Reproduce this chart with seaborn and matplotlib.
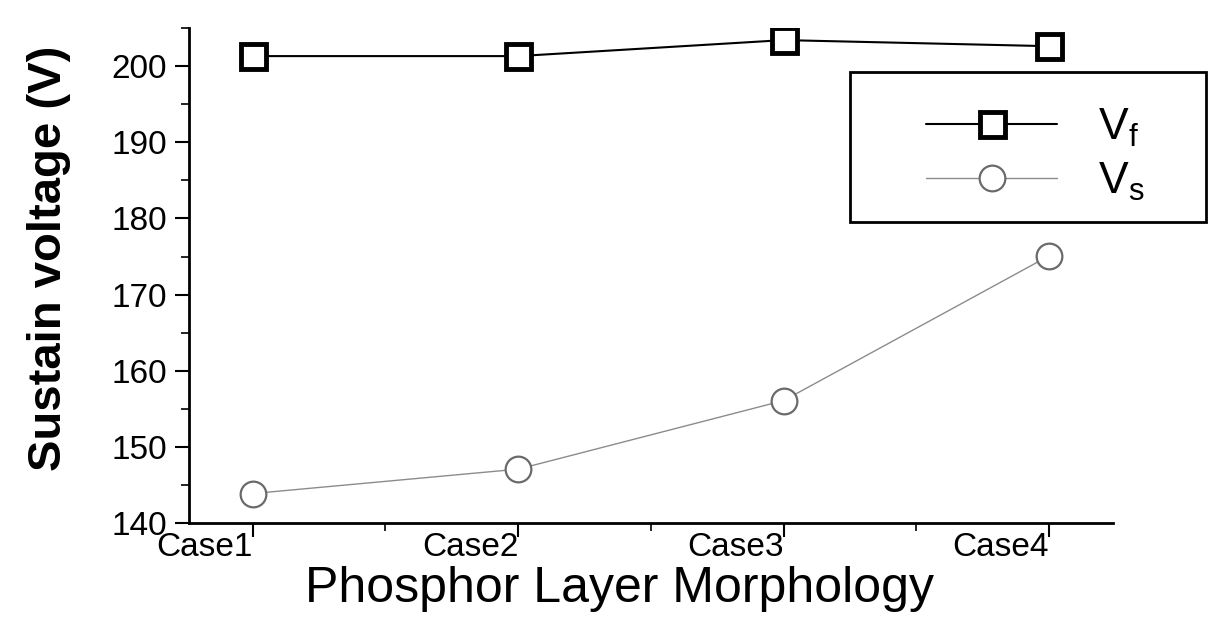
import matplotlib
matplotlib.use("Agg")
import matplotlib.pyplot as plt
import seaborn as sns
import pandas as pd
from matplotlib.ticker import MultipleLocator
from matplotlib.patches import Rectangle

cases = ["Case1", "Case2", "Case3", "Case4"]
vf = [201.3, 201.3, 203.4, 202.6]
vs = [143.9, 147.1, 156.1, 175.1]

sns.set_style("white")
plt.rcParams['font.family'] = ['Liberation Sans', 'DejaVu Sans']
plt.rcParams['mathtext.fontset'] = 'custom'
plt.rcParams['mathtext.rm'] = 'Liberation Sans'
plt.rcParams['mathtext.it'] = 'Liberation Sans'
plt.rcParams['text.color'] = 'black'
plt.rcParams['axes.labelcolor'] = 'black'
plt.rcParams['xtick.color'] = 'black'
plt.rcParams['ytick.color'] = 'black'

df = pd.DataFrame({
    "x": list(range(len(cases))) * 2,
    "v": vf + vs,
    "series": ["Vf"] * 4 + ["Vs"] * 4,
})

fig = plt.figure(figsize=(12.11, 6.2), dpi=100)
ax = fig.add_axes([0.156, 0.156, 0.763, 0.799])

sns.lineplot(data=df[df.series == "Vf"], x="x", y="v", ax=ax, color="black",
             lw=1.5, marker="s", markersize=18, markerfacecolor="white",
             markeredgecolor="black", markeredgewidth=3.5, label=r"V$_\mathrm{f}$")
sns.lineplot(data=df[df.series == "Vs"], x="x", y="v", ax=ax, color="#8c8c8c",
             lw=1.0, marker="o", markersize=18.5, markerfacecolor="white",
             markeredgecolor="#6a6a6a", markeredgewidth=1.6, label=r"V$_\mathrm{s}$")

ax.set_xlim(-0.24, 3.24)
ax.set_ylim(140, 205)
ax.set_xticks(range(len(cases)))
ax.set_xticklabels(cases, ha="right")
ax.xaxis.set_minor_locator(MultipleLocator(0.5))
ax.yaxis.set_major_locator(MultipleLocator(10))
ax.yaxis.set_minor_locator(MultipleLocator(5))
ax.tick_params(axis="both", which="major", direction="out", length=10, width=1.5,
               labelsize=24, bottom=True, left=True)
ax.tick_params(axis="y", which="major", pad=6)
ax.tick_params(axis="x", which="major", pad=-4)
ax.tick_params(axis="both", which="minor", direction="out", length=5.5, width=1.2,
               bottom=True, left=True)
for s in ["top", "right"]:
    ax.spines[s].set_visible(False)
for s in ["left", "bottom"]:
    ax.spines[s].set_color("black")
    ax.spines[s].set_linewidth(2)

ax.set_xlabel("Phosphor Layer Morphology", fontsize=36)
ax.set_ylabel("Sustain voltage (V)", fontsize=34, fontweight="bold")
ax.xaxis.set_label_coords(0.466, -0.087, transform=ax.transAxes)
ax.xaxis.label.set_va("top")
ax.yaxis.set_label_coords(-0.128, 0.535, transform=ax.transAxes)

leg = ax.legend(loc="upper left", bbox_to_anchor=(926 / 1211, 1 - 107 / 620),
                bbox_transform=fig.transFigure, fontsize=32, frameon=False,
                handlelength=2.95, borderpad=0, borderaxespad=0,
                labelspacing=0.25, handletextpad=0.92)
fig.patches.append(Rectangle((850 / 1211, 1 - 222 / 620), 356 / 1211, 150 / 620,
                             transform=fig.transFigure, fill=False, lw=2,
                             ec="black", zorder=5))

fig.savefig("out.png", dpi=100)
